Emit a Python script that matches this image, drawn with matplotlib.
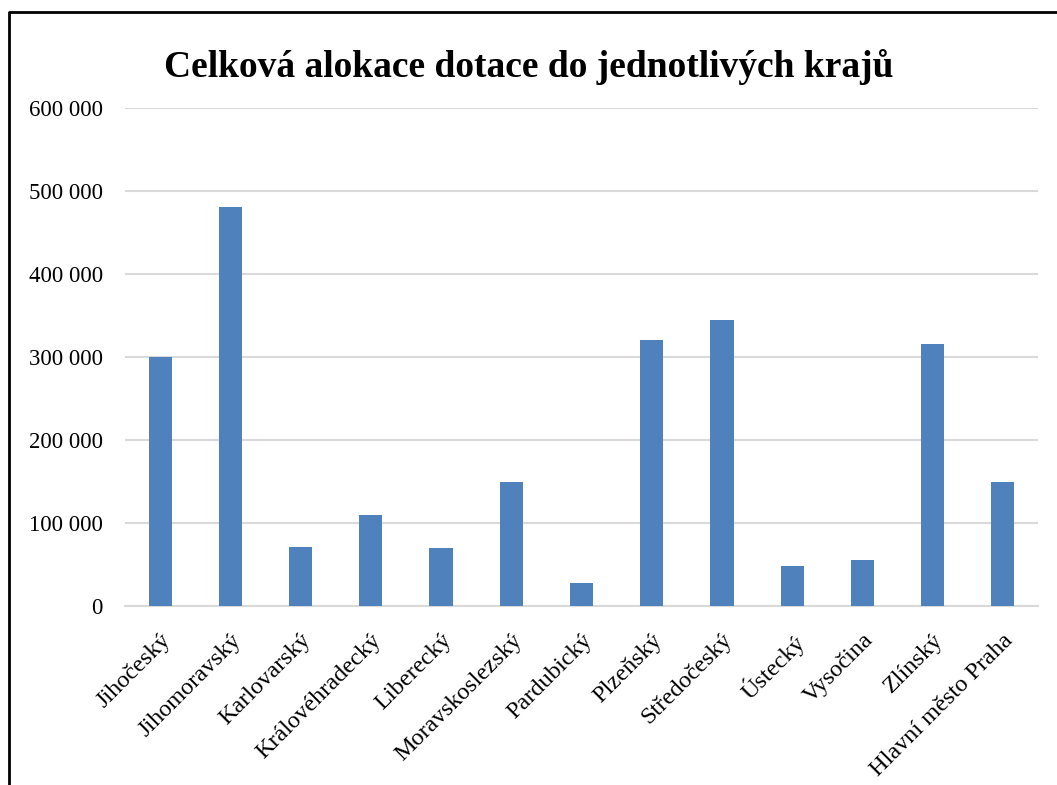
import matplotlib.pyplot as plt
from matplotlib.lines import Line2D
from matplotlib.ticker import FuncFormatter

plt.rcParams['font.family'] = ['Liberation Serif', 'DejaVu Serif']

kraje = ['Jihočeský', 'Jihomoravský', 'Karlovarský', 'Královéhradecký', 'Liberecký',
         'Moravskoslezský', 'Pardubický', 'Plzeňský', 'Středočeský', 'Ústecký',
         'Vysočina', 'Zlínský', 'Hlavní město Praha']
dotace = [300000, 481000, 71000, 110000, 70000, 150000, 28000,
          320000, 345000, 48000, 55000, 316000, 150000]

fig = plt.figure(figsize=(10.57, 7.85), dpi=100)
ax = fig.add_axes([0.1183, 0.228, 0.8637, 0.6344])

x = range(len(kraje))
ax.bar(x, dotace, width=0.33, color='#4F81BD', zorder=3)
ax.set_xlim(-0.5, len(kraje) - 0.5)
ax.set_ylim(0, 600000)
ax.set_yticks(range(0, 600001, 100000))
ax.yaxis.set_major_formatter(FuncFormatter(lambda v, p: f'{int(v):,}'.replace(',', ' ')))
ax.grid(axis='y', color='#D9D9D9', linewidth=1.5, zorder=0)
for s in ['top', 'right', 'left']:
    ax.spines[s].set_visible(False)
ax.spines['bottom'].set_color('#D9D9D9')
ax.spines['bottom'].set_linewidth(1.5)
ax.tick_params(length=0)
ax.tick_params(axis='y', pad=16, labelsize=16.5)
ax.set_xticks(list(x))
ax.set_xticklabels(kraje, rotation=45, ha='right', rotation_mode='anchor')
ax.tick_params(axis='x', pad=17, labelsize=17.5)

fig.text(0.5, 0.915, 'Celková alokace dotace do jednotlivých krajů', ha='center', va='center',
         fontsize=27, fontweight='bold')

# ramecek grafu
fx = 9 / 1057
fy = 1 - 12 / 785
fig.add_artist(Line2D([fx, fx, 1], [0, fy, fy], color='black', linewidth=2, transform=fig.transFigure))

fig.savefig('out.png', dpi=100)
